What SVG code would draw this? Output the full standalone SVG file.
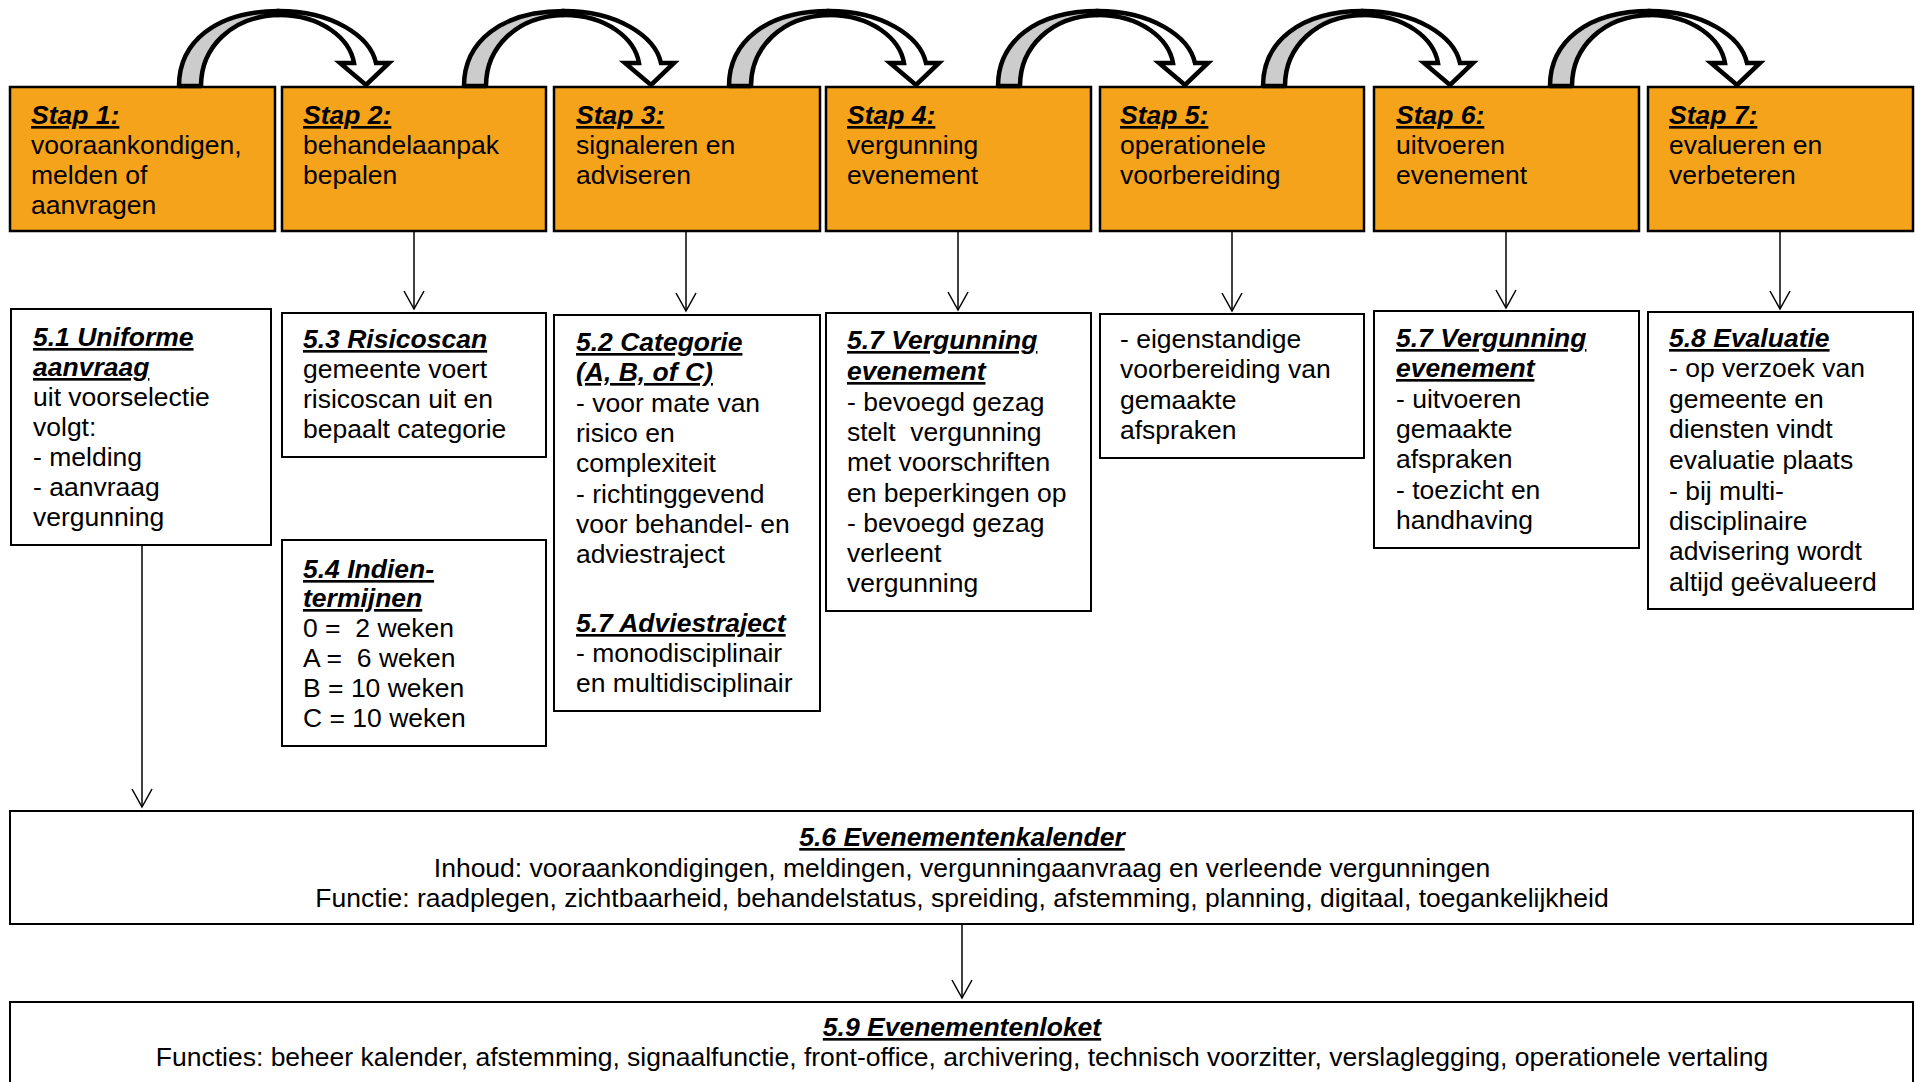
<svg xmlns="http://www.w3.org/2000/svg" width="1916" height="1082" viewBox="0 0 1916 1082">
<style>
text { font-family: "Liberation Sans", Arial, sans-serif; font-size: 26.5px; fill: #000; }
.h { font-weight: bold; font-style: italic; text-decoration: underline; }
.step { fill: #F4A31B; stroke: #000; stroke-width: 2.5; }
.box { fill: #fff; stroke: #000; stroke-width: 2; }
.conn { stroke: #000; stroke-width: 1.5; fill: none; marker-end: url(#v); }
.mid { text-anchor: middle; }
.ca-back { fill: #CCCCCC; stroke: #000; stroke-width: 4.5; stroke-linejoin: round; }
.ca-front { fill: #fff; stroke: #000; stroke-width: 4.5; stroke-linejoin: miter; }
</style>
<defs>
<marker id="v" markerUnits="userSpaceOnUse" viewBox="-20 -12 22 24" refX="0" refY="0" markerWidth="22" markerHeight="24" orient="auto">
<path d="M-18,-10 L0,0 L-18,10" fill="none" stroke="#000" stroke-width="1.5"/>
</marker>
<g id="carrow">
<path class="ca-back" d="M0,86 C0,42 37,11 100,11 L100,15 C53,16 22,47 22,86 Z"/>
<path class="ca-front" d="M100,11 C153,11 191,36 197,63 L210,63 L187,85 L161,63 L175,63 C171,39 143,15 100,15 Z"/>
</g>
</defs>

<g id="step1"><rect class="step" x="10" y="87" width="265" height="144"/>
<text x="31" y="124"><tspan class="h">Stap 1:</tspan><tspan x="31" y="154">vooraankondigen,</tspan><tspan x="31" y="184">melden of</tspan><tspan x="31" y="214">aanvragen</tspan></text></g>
<g id="step2"><rect class="step" x="282" y="87" width="264" height="144"/>
<text x="303" y="124"><tspan class="h">Stap 2:</tspan><tspan x="303" y="154">behandelaanpak</tspan><tspan x="303" y="184">bepalen</tspan></text></g>
<g id="step3"><rect class="step" x="554" y="87" width="266" height="144"/>
<text x="576" y="124"><tspan class="h">Stap 3:</tspan><tspan x="576" y="154">signaleren en</tspan><tspan x="576" y="184">adviseren</tspan></text></g>
<g id="step4"><rect class="step" x="826" y="87" width="265" height="144"/>
<text x="847" y="124"><tspan class="h">Stap 4:</tspan><tspan x="847" y="154">vergunning</tspan><tspan x="847" y="184">evenement</tspan></text></g>
<g id="step5"><rect class="step" x="1100" y="87" width="264" height="144"/>
<text x="1120" y="124"><tspan class="h">Stap 5:</tspan><tspan x="1120" y="154">operationele</tspan><tspan x="1120" y="184">voorbereiding</tspan></text></g>
<g id="step6"><rect class="step" x="1374" y="87" width="265" height="144"/>
<text x="1396" y="124"><tspan class="h">Stap 6:</tspan><tspan x="1396" y="154">uitvoeren</tspan><tspan x="1396" y="184">evenement</tspan></text></g>
<g id="step7"><rect class="step" x="1648" y="87" width="265" height="144"/>
<text x="1669" y="124"><tspan class="h">Stap 7:</tspan><tspan x="1669" y="154">evalueren en</tspan><tspan x="1669" y="184">verbeteren</tspan></text></g>

<g id="n51"><rect class="box" x="11" y="309" width="260" height="236"/>
<text x="33" y="346"><tspan class="h">5.1 Uniforme</tspan><tspan class="h" x="33" y="376">aanvraag</tspan><tspan x="33" y="406">uit voorselectie</tspan><tspan x="33" y="436">volgt:</tspan><tspan x="33" y="466">- melding</tspan><tspan x="33" y="496">- aanvraag</tspan><tspan x="33" y="526">vergunning</tspan></text></g>

<g id="n53"><rect class="box" x="282" y="313" width="264" height="144"/>
<text x="303" y="348"><tspan class="h">5.3 Risicoscan</tspan><tspan x="303" y="378">gemeente voert</tspan><tspan x="303" y="408">risicoscan uit en</tspan><tspan x="303" y="438">bepaalt categorie</tspan></text></g>

<g id="n54"><rect class="box" x="282" y="540" width="264" height="206"/>
<text x="303" y="578" xml:space="preserve"><tspan class="h">5.4 Indien-</tspan><tspan class="h" x="303" y="607">termijnen</tspan><tspan x="303" y="637">0 =  2 weken</tspan><tspan x="303" y="667">A =  6 weken</tspan><tspan x="303" y="697">B = 10 weken</tspan><tspan x="303" y="727">C = 10 weken</tspan></text></g>

<g id="n52"><rect class="box" x="554" y="315" width="266" height="396"/>
<text x="576" y="351"><tspan class="h">5.2 Categorie</tspan><tspan class="h" x="576" y="381">(A, B, of C)</tspan><tspan x="576" y="412">- voor mate van</tspan><tspan x="576" y="442">risico en</tspan><tspan x="576" y="472">complexiteit</tspan><tspan x="576" y="503">- richtinggevend</tspan><tspan x="576" y="533">voor behandel- en</tspan><tspan x="576" y="563">adviestraject</tspan><tspan class="h" x="576" y="632">5.7 Adviestraject</tspan><tspan x="576" y="662">- monodisciplinair</tspan><tspan x="576" y="692">en multidisciplinair</tspan></text></g>

<g id="n57a"><rect class="box" x="826" y="313" width="265" height="298"/>
<text x="847" y="349" xml:space="preserve"><tspan class="h">5.7 Vergunning</tspan><tspan class="h" x="847" y="380">evenement</tspan><tspan x="847" y="411">- bevoegd gezag</tspan><tspan x="847" y="441">stelt  vergunning</tspan><tspan x="847" y="471">met voorschriften</tspan><tspan x="847" y="502">en beperkingen op</tspan><tspan x="847" y="532">- bevoegd gezag</tspan><tspan x="847" y="562">verleent</tspan><tspan x="847" y="592">vergunning</tspan></text></g>

<g id="n5op"><rect class="box" x="1100" y="314" width="264" height="144"/>
<text x="1120" y="348"><tspan>- eigenstandige</tspan><tspan x="1120" y="378">voorbereiding van</tspan><tspan x="1120" y="409">gemaakte</tspan><tspan x="1120" y="439">afspraken</tspan></text></g>

<g id="n57b"><rect class="box" x="1374" y="311" width="265" height="237"/>
<text x="1396" y="347"><tspan class="h">5.7 Vergunning</tspan><tspan class="h" x="1396" y="377">evenement</tspan><tspan x="1396" y="408">- uitvoeren</tspan><tspan x="1396" y="438">gemaakte</tspan><tspan x="1396" y="468">afspraken</tspan><tspan x="1396" y="499">- toezicht en</tspan><tspan x="1396" y="529">handhaving</tspan></text></g>

<g id="n58"><rect class="box" x="1648" y="312" width="265" height="297"/>
<text x="1669" y="347"><tspan class="h">5.8 Evaluatie</tspan><tspan x="1669" y="377">- op verzoek van</tspan><tspan x="1669" y="408">gemeente en</tspan><tspan x="1669" y="438">diensten vindt</tspan><tspan x="1669" y="469">evaluatie plaats</tspan><tspan x="1669" y="500">- bij multi-</tspan><tspan x="1669" y="530">disciplinaire</tspan><tspan x="1669" y="560">advisering wordt</tspan><tspan x="1669" y="591">altijd geëvalueerd</tspan></text></g>

<g id="n56"><rect class="box" x="10" y="811" width="1903" height="113"/>
<text class="mid" x="962" y="846"><tspan class="h">5.6 Evenementenkalender</tspan><tspan x="962" y="877">Inhoud: vooraankondigingen, meldingen, vergunningaanvraag en verleende vergunningen</tspan><tspan x="962" y="907">Functie: raadplegen, zichtbaarheid, behandelstatus, spreiding, afstemming, planning, digitaal, toegankelijkheid</tspan></text></g>

<g id="n59"><rect class="box" x="10" y="1002" width="1903" height="110"/>
<text class="mid" x="962" y="1036"><tspan class="h">5.9 Evenementenloket</tspan><tspan x="962" y="1066">Functies: beheer kalender, afstemming, signaalfunctie, front-office, archivering, technisch voorzitter, verslaglegging, operationele vertaling</tspan></text></g>

<g id="connectors">
<use href="#carrow" transform="translate(179,0)"/>
<use href="#carrow" transform="translate(464,0)"/>
<use href="#carrow" transform="translate(729,0)"/>
<use href="#carrow" transform="translate(998,0)"/>
<use href="#carrow" transform="translate(1263,0)"/>
<use href="#carrow" transform="translate(1550,0)"/>
<line class="conn" x1="414" y1="232" x2="414" y2="309"/>
<line class="conn" x1="686" y1="232" x2="686" y2="311"/>
<line class="conn" x1="958" y1="232" x2="958" y2="310"/>
<line class="conn" x1="1232" y1="232" x2="1232" y2="311"/>
<line class="conn" x1="1506" y1="232" x2="1506" y2="308"/>
<line class="conn" x1="1780" y1="232" x2="1780" y2="309"/>
<line class="conn" x1="142" y1="546" x2="142" y2="807"/>
<line class="conn" x1="962" y1="925" x2="962" y2="998"/>
</g>
</svg>
